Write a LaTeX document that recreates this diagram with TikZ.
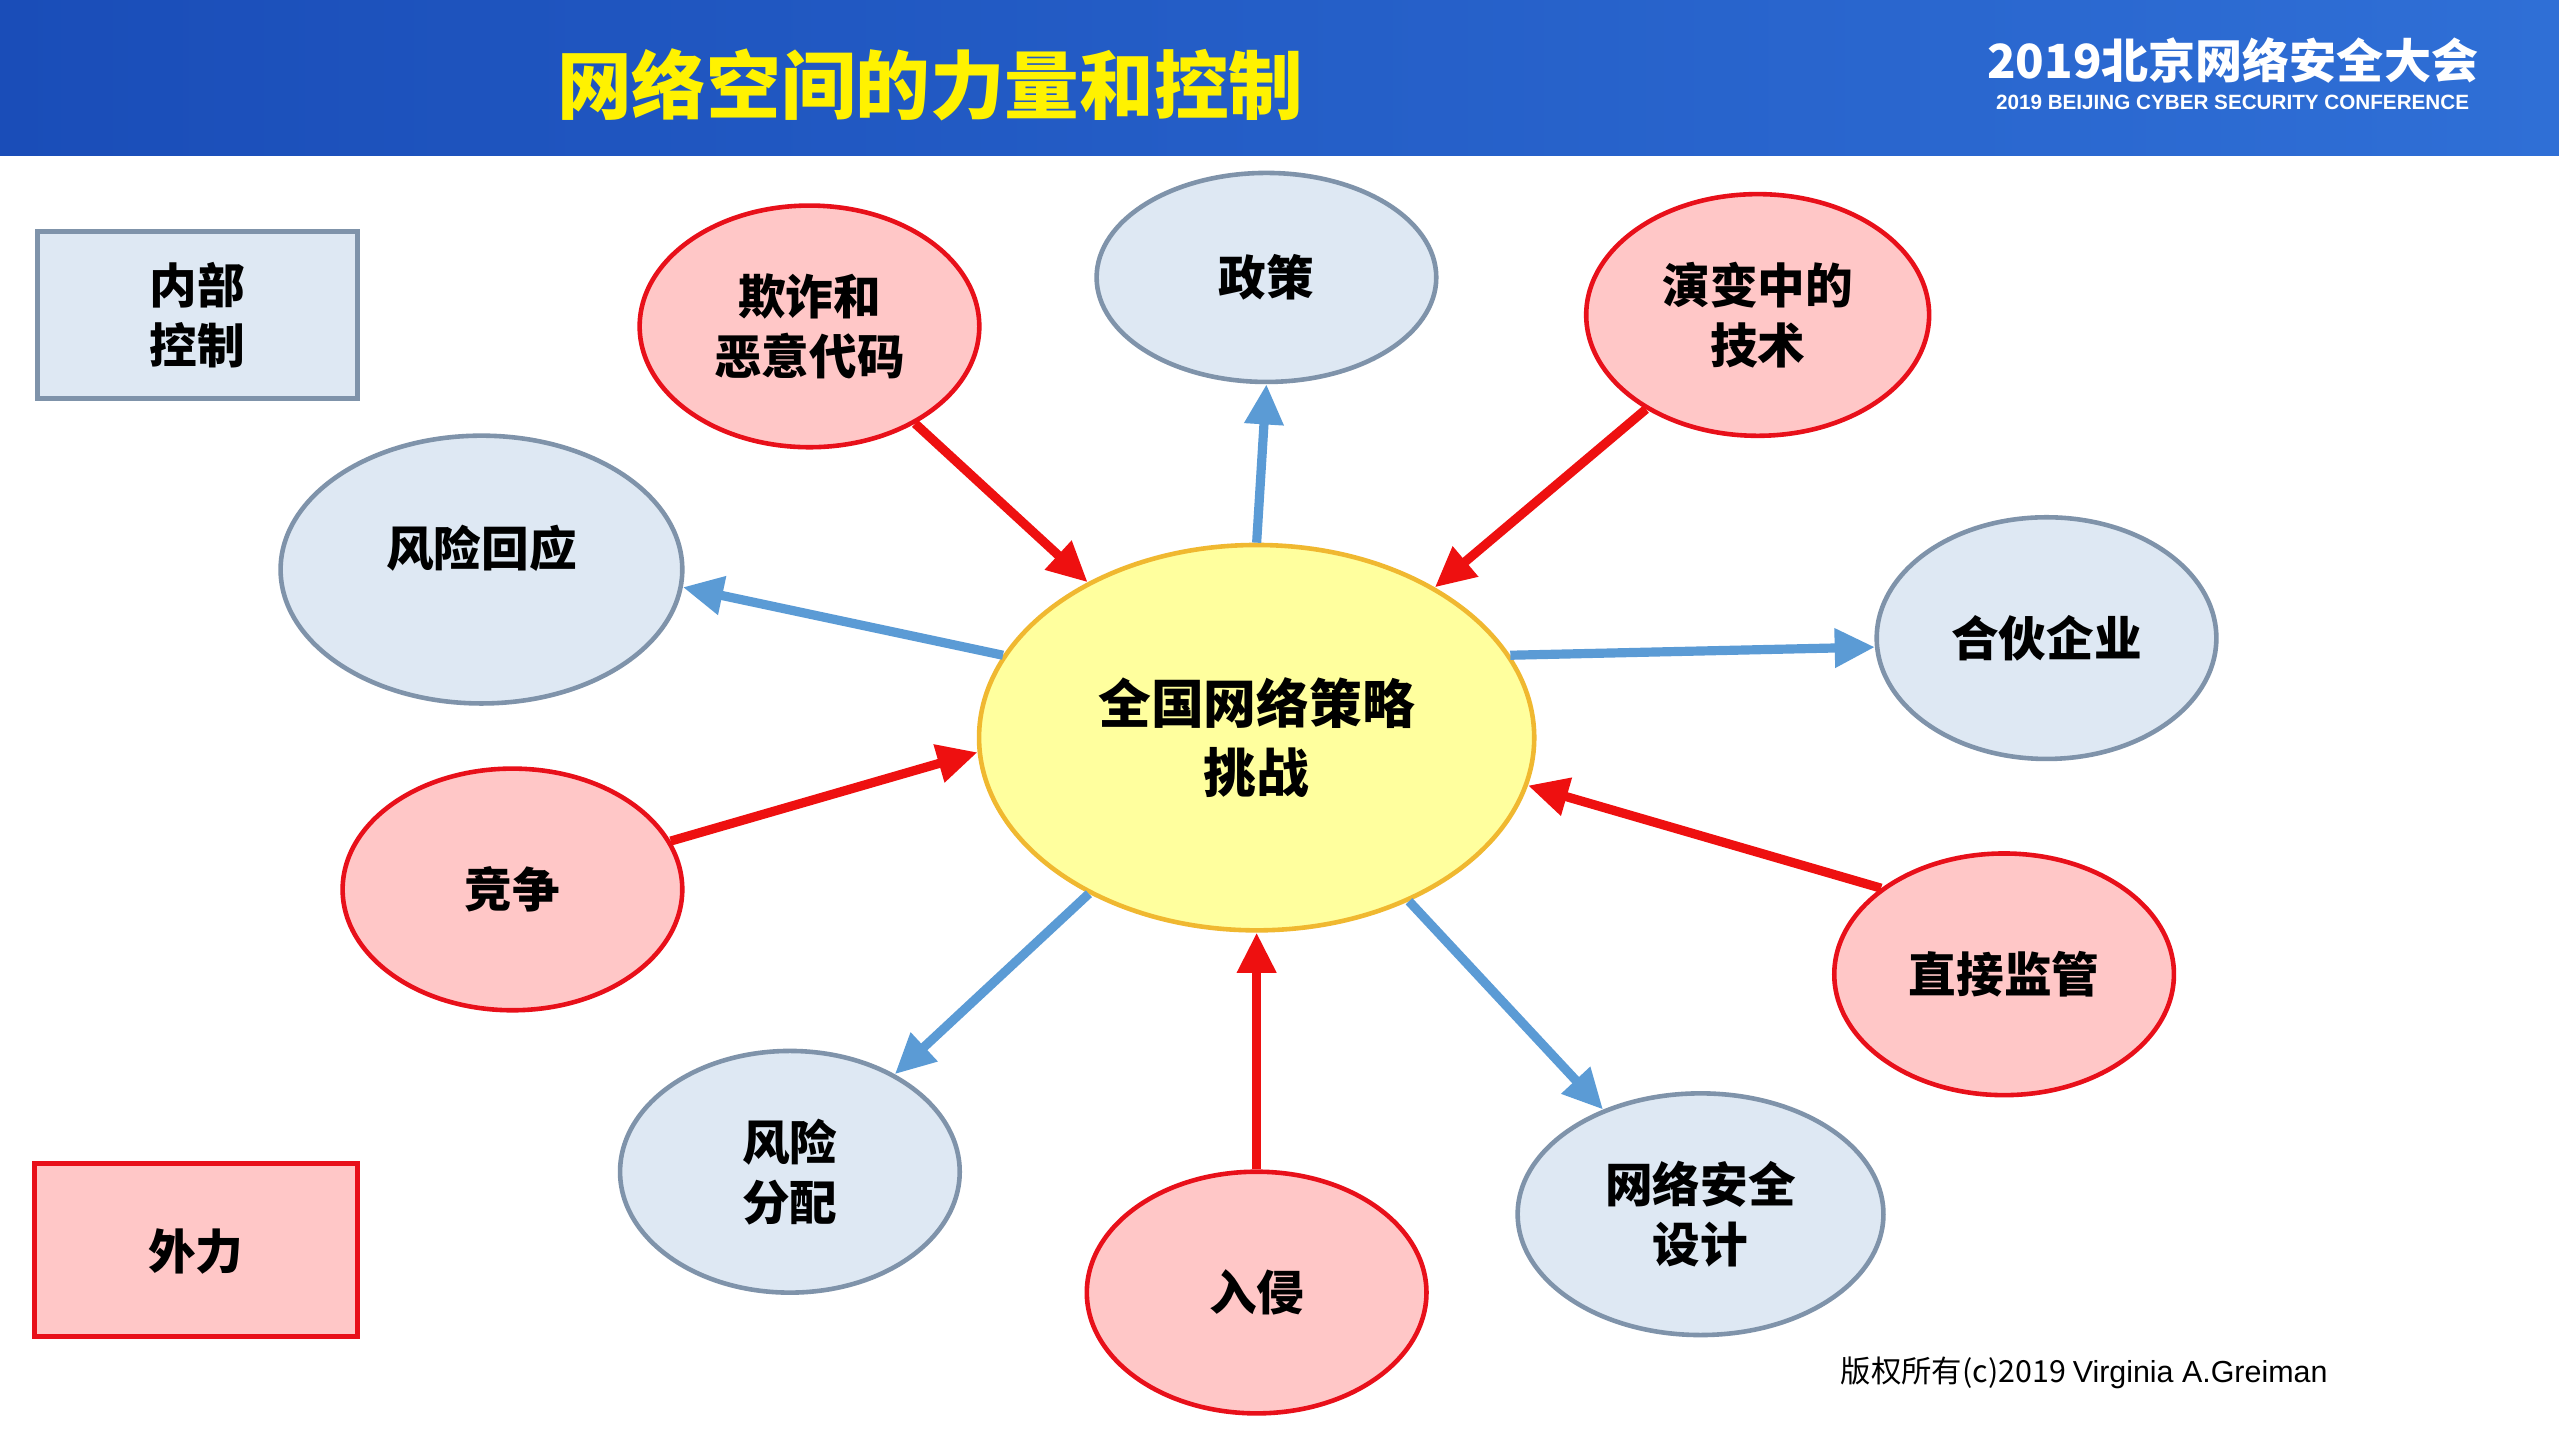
\documentclass[tikz,border=0pt]{standalone}
\usepackage{fontspec}
\setmainfont{Noto Sans CJK SC}
\newfontfamily\latfont{Liberation Sans}
\usetikzlibrary{shapes.geometric,arrows.meta}
\definecolor{bfill}{HTML}{DEE8F3}
\definecolor{bline}{HTML}{7F93AA}
\definecolor{rfill}{HTML}{FFC7C7}
\definecolor{rline}{HTML}{E8101A}
\definecolor{yfill}{HTML}{FFFF9E}
\definecolor{yline}{HTML}{F0B830}
\definecolor{barrow}{HTML}{5B9BD5}
\definecolor{rarrow}{HTML}{EE1010}
\definecolor{hdl}{HTML}{1A4DB8}
\definecolor{hdr}{HTML}{2F6FD6}
\tikzset{
 ell/.style={ellipse,draw,line width=0.8pt,inner sep=0pt,align=center,font=\fontsize{8.3}{10.5}\selectfont\bfseries},
 bell/.style={ell,fill=bfill,draw=bline},
 rell/.style={ell,fill=rfill,draw=rline},
 txt/.style={font=\fontsize{8.3}{10.5}\selectfont\bfseries,align=center},
 barr/.style={draw=barrow,line width=1.6pt,-{Triangle[length=7pt,width=6.5pt]}},
 rarr/.style={draw=rarrow,line width=1.6pt,-{Triangle[length=7pt,width=6.5pt]}},
}
\begin{document}
\begin{tikzpicture}[x=0.01cm,y=-0.01cm]
\useasboundingbox (0,0) rectangle (1568,882);
\fill[white] (0,0) rectangle (1568,882);
\shade[left color=hdl, right color=hdr] (0,0) rectangle (1568,95);
\node[font=\fontsize{13}{15}\selectfont\bfseries,text=yellow] (title) at (570,52) {网络空间的力量和控制};
\node[font=\fontsize{8.2}{10}\selectfont\bfseries,text=white] (conf) at (1368,37) {2019北京网络安全大会};
\node[font=\latfont\fontsize{3.6}{4}\selectfont\bfseries,text=white] (confen) at (1368,63) {2019 BEIJING CYBER SECURITY CONFERENCE};

\draw[draw=bline,fill=bfill,line width=0.8pt] (23,142) rectangle (219,244);
\node[txt] (leg1) at (121,193) {内部\\控制};
\draw[draw=rline,fill=rfill,line width=0.8pt] (21,713) rectangle (219,819);
\node[txt] (leg2) at (120,767) {外力};

\node[ell,fill=yfill,draw=yline,minimum width=3.4cm,minimum height=2.36cm,font=\fontsize{9.2}{12}\selectfont\bfseries] (c) at (770,452) {全国网络策略\\挑战};
\node[bell,minimum width=2.08cm,minimum height=1.28cm] (zc) at (776,170) {};
\node[txt] (zct) at (776,170) {政策};
\node[rell,minimum width=2.08cm,minimum height=1.48cm] (qz) at (496,200) {欺诈和\\恶意代码};
\node[rell,minimum width=2.1cm,minimum height=1.48cm] (yb) at (1077,193) {演变中的\\技术};
\node[bell,minimum width=2.46cm,minimum height=1.64cm] (fxhy) at (295,349) {};
\node[txt] (fxhyt) at (295,336) {风险回应};
\node[bell,minimum width=2.08cm,minimum height=1.48cm] (hh) at (1254,391) {合伙企业};
\node[rell,minimum width=2.08cm,minimum height=1.48cm] (jz) at (314,545) {竞争};
\node[rell,minimum width=2.08cm,minimum height=1.48cm] (zj) at (1228,597) {直接监管};
\node[bell,minimum width=2.08cm,minimum height=1.48cm] (fxfp) at (484,718) {风险\\分配};
\node[rell,minimum width=2.08cm,minimum height=1.48cm] (rq) at (770,792) {入侵};
\node[bell,minimum width=2.24cm,minimum height=1.48cm] (aq) at (1042,744) {网络安全\\设计};

\draw[barr] (c.90) -- (zc.270);
\draw[rarr] (qz) -- (c);
\draw[rarr] (yb) -- (c);
\draw[barr] (c.162) -- (fxhy.355);
\draw[barr] (c.18) -- (hh.183);
\draw[rarr] (jz.17) -- (c.183);
\draw[rarr] (zj.145) -- (c.350);
\draw[barr] (c) -- (fxfp);
\draw[rarr] (rq) -- (c);
\draw[barr] (c) -- (aq);

\node[font=\fontsize{5.3}{6}\selectfont] (copy) at (1277,841) {版权所有(c)2019 {\latfont Virginia A.Greiman}};
\end{tikzpicture}
\end{document}
